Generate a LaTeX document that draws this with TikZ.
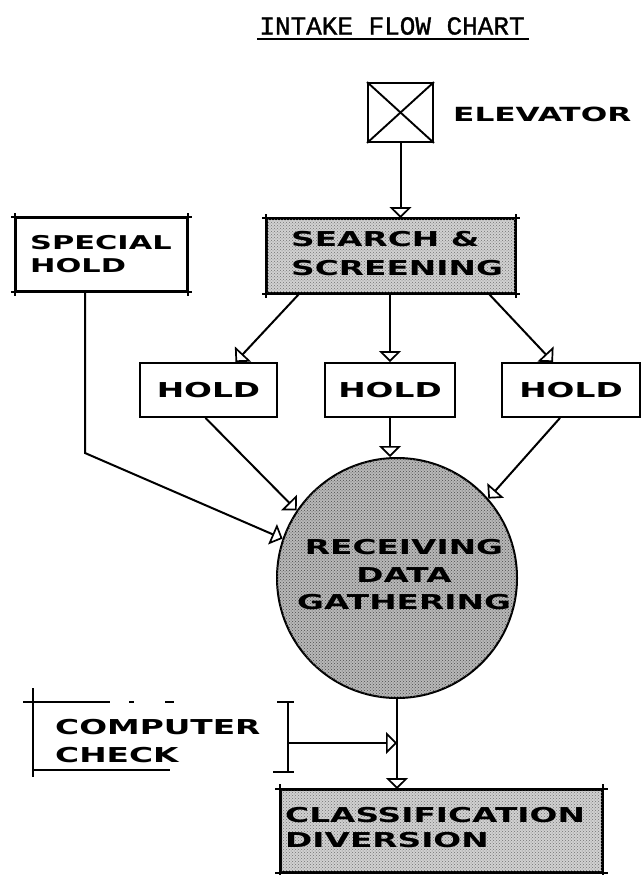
\documentclass[tikz,border=0pt]{standalone}
\usepackage{fontspec}
\newfontfamily\lab{DejaVu Sans}[FakeStretch=1.6]
\newfontfamily\typew{Liberation Mono}[FakeBold=1.2]
\usetikzlibrary{arrows.meta,calc,patterns}
\newcommand\overshoot[2]{%
  \draw[line] ([xshift=-#2]#1.north west) -- ([xshift=#2]#1.north east);
  \draw[line] ([xshift=-#2]#1.south west) -- ([xshift=#2]#1.south east);
  \draw[line] ([yshift=#2]#1.north west) -- ([yshift=-#2]#1.south west);
  \draw[line] ([yshift=#2]#1.north east) -- ([yshift=-#2]#1.south east);}
\begin{document}
\begin{tikzpicture}[x=1pt,y=-1pt,
  line/.style={line width=1.9pt},
  box/.style={draw, line width=1.9pt, inner sep=0pt},
  shade/.style={fill=black!18, postaction={pattern=crosshatch dots, pattern color=black!55}},
  lbl/.style={font=\lab\bfseries\fontsize{20.5}{#1}\selectfont, inner sep=0pt, align=left},
  lbl/.default=23,
  conn/.style={line width=2pt, -{Triangle[open, width=22pt, length=11pt, line width=1.7pt]}}]
\useasboundingbox (0,0) rectangle (644,875);

% title
\node[font=\typew\fontsize{26}{28}\selectfont, inner sep=0pt] (title) at (392,26) {INTAKE FLOW CHART};
\draw[line width=1.1pt] ($(title.south west)+(-2,4)$) -- ($(title.south east)+(4,4)$);

% elevator
\node[box, minimum width=65pt, minimum height=59pt] (elev) at (400.5,112.5) {};
\draw[line] (elev.north west) -- (elev.south east) (elev.north east) -- (elev.south west);
\node[lbl, font=\lab\bfseries\fontsize{19.5}{23}\selectfont, anchor=west] (elevt) at (453,114) {ELEVATOR};

% search & screening
\node[box, shade, minimum width=248pt, minimum height=74pt] (search) at (391,256) {};
\overshoot{search}{4pt}
\node[lbl=29, anchor=west] (searcht) at (291,254) {SEARCH \&\\SCREENING};

% special hold
\node[box, minimum width=171pt, minimum height=73pt] (special) at (101.5,254.5) {};
\overshoot{special}{4pt}
\node[lbl, font=\lab\bfseries\fontsize{19}{23}\selectfont, anchor=west] (specialt) at (30,254.5) {SPECIAL\\HOLD};

% holds
\node[box, lbl, minimum width=137pt, minimum height=54pt] (hold1) at (208.5,390) {HOLD};
\node[box, lbl, minimum width=130pt, minimum height=54pt] (hold2) at (390,390) {HOLD};
\node[box, lbl, minimum width=138pt, minimum height=54pt] (hold3) at (571,390) {HOLD};

% receiving circle
\node[circle, draw, line width=2pt, fill=black!28, postaction={pattern=crosshatch dots, pattern color=black!70}, minimum size=240pt, inner sep=0pt] (circ) at (397,578) {};
\node[lbl=27.5, align=center] (circt) at (404,575) {RECEIVING\\DATA\\GATHERING};

% computer check
\node[minimum width=255pt, minimum height=68pt, inner sep=0pt] (cc) at (160.5,736) {};
\node[lbl=28, anchor=west] (cct) at (55,741) {COMPUTER\\CHECK};
\draw[line] (33,688) -- (33,777);
\draw[line] (23,702) -- (110,702) (129,702) -- (134,702) (165,702) -- (174,702);
\draw[line] (33,770) -- (170,770);
\draw[line] (288,702) -- (288,772) (277,702) -- (294,702) (273,772) -- (294,772);

% classification
\node[box, shade, minimum width=321pt, minimum height=82pt] (class) at (441.5,831) {};
\overshoot{class}{5pt}
\node[lbl=25, anchor=west] (classt) at (285,828) {CLASSIFICATION\\DIVERSION};

% connectors
\draw[conn] (elev.south) -- (elev.south |- search.north);
\draw[conn] ($(search.south west)+(33,0)$) -- ($(hold1.north)+(27,0)$);
\draw[conn] (hold2.north |- search.south) -- (hold2.north);
\draw[conn] ($(search.south east)+(-27,0)$) -- ($(hold3.north)+(-18,0)$);
\draw[conn] ($(hold1.south)+(-3,0)$) -- (circ.146);
\draw[conn] (hold2.south) -- (hold2.south |- circ.north);
\draw[conn] ($(hold3.south)+(-11,0)$) -- (circ.41);
\coordinate (spbend) at (85,453);
\draw[conn] (special.south -| spbend) -- (spbend) -- (circ.161);
\draw[conn] (circ.south) -- (circ.south |- class.north);
\coordinate (ccarrow) at ($(cc.east)+(0,7)$);
\draw[conn] (ccarrow) -- (ccarrow -| circ.south);
\end{tikzpicture}
\end{document}
